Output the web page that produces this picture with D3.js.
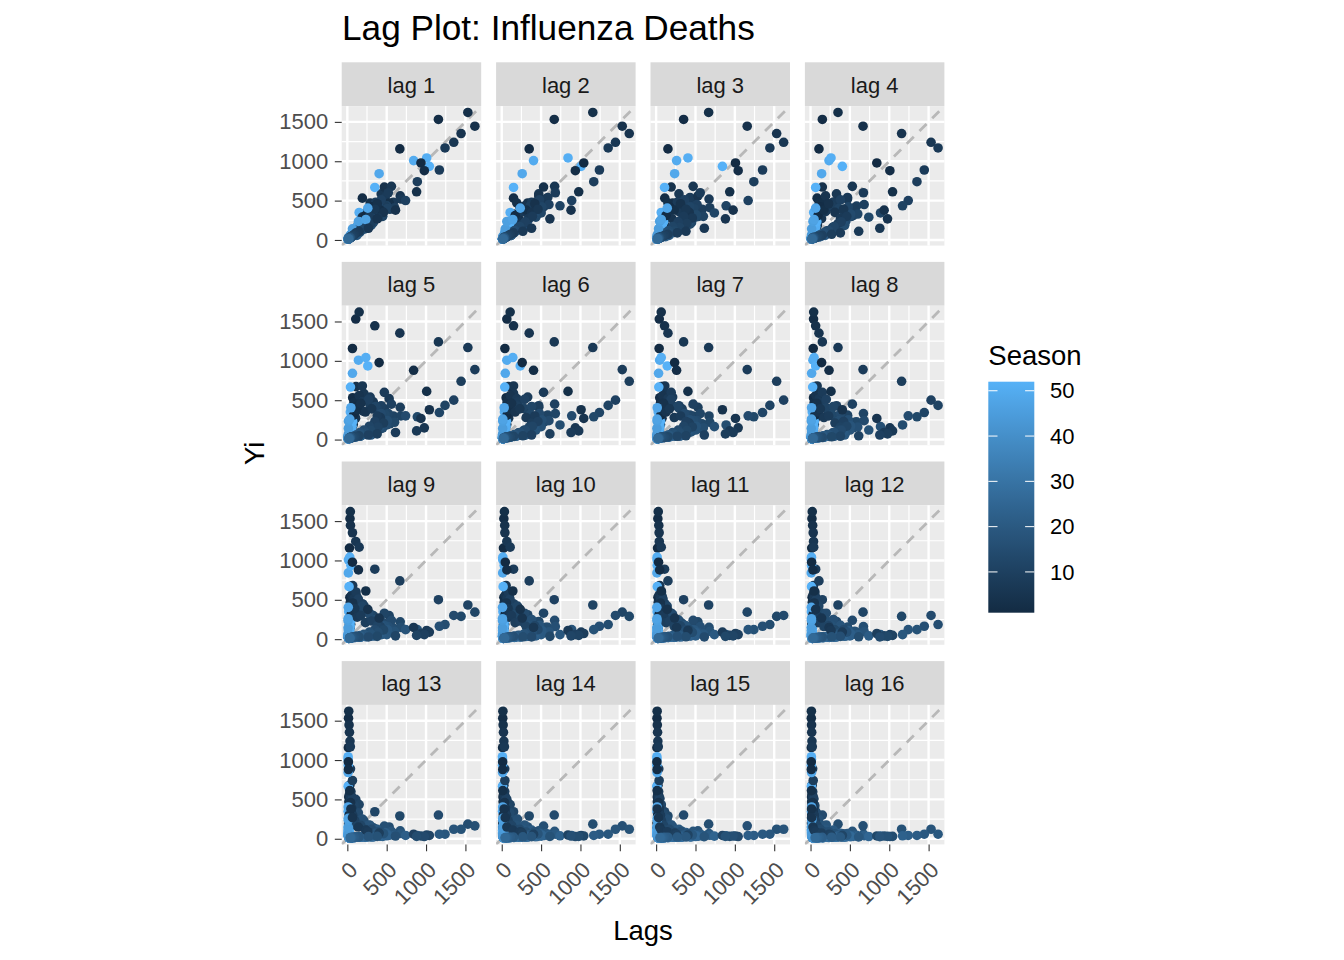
<!DOCTYPE html>
<html>
<head>
<meta charset="utf-8">
<script src="https://cdn.jsdelivr.net/npm/d3@7"></script>
<style>
  body { margin: 0; background: #fff; }
  text { font-family: "Liberation Sans", Arial, Helvetica, sans-serif; }
</style>
</head>
<body>
<div id="vis"></div>
<script>
// week of the year for each row of a season (a season runs wk27 -> wk26)
var weekOrder = [27,28,29,30,31,32,33,34,35,36,37,38,39,40,41,42,43,44,45,46,47,48,49,50,51,52,
                 1,2,3,4,5,6,7,8,9,10,11,12,13,14,15,16,17,18,19,20,21,22,23,24,25,26];

// weekly influenza deaths, one array per season
var season1 = [24,22,20,19,18,17,16,15,14,14,15,16,17,19,21,24,27,31,36,43,52,63,78,96,120,150,
               210,330,290,470,430,585,480,540,390,430,300,310,200,225,140,150,95,92,66,60,45,43,33,31,26,24];
var season2 = [23,21,19,18,16,15,14,13,12,12,13,14,15,16,18,20,23,27,32,38,46,56,68,84,110,150,
               191,531,470,672,560,681,520,600,410,450,300,330,220,240,150,160,100,95,66,58,44,40,31,28,24,22];
var season3 = [22,20,19,17,16,15,14,13,12,11,10,10,11,13,15,18,22,27,34,38,40,65,107,150,349,667,
               1157,1531,1620,1445,1352,1241,1169,889,740,501,434,343,289,301,186,164,121,121,58,58,42,42,38,33,29,26];
var season4 = [25,23,21,20,19,18,17,16,15,15,16,17,18,20,22,25,28,32,37,42,48,55,64,75,88,105,
               140,200,190,290,270,380,360,480,430,510,400,420,320,330,240,250,170,175,120,110,80,70,50,45,36,30];
var season5 = [28,26,24,22,21,20,19,18,18,19,20,22,25,28,32,37,42,48,55,60,68,80,95,125,170,230,
               310,420,380,460,350,390,280,300,210,230,160,170,118,120,86,90,64,62,48,46,37,35,30,28,25,23];
var season6 = [20,18,17,16,15,14,13,12,11,10,9,10,12,13,14,31,45,65,141,235,260,404,842,1008,1042,935,
               978,880,612,379,268,149,110,90,72,58,48,42,36,28,30,35,30,27,24,22,20,18,16,15,14,13];

var lags = [1,2,3,4,5,6,7,8,9,10,11,12,13,14,15,16];
var axisTicks = [0,500,1000,1500];
var minorTicks = [250,750,1250];
var legendTicks = [10,20,30,40,50];
var seasonRange = [1,52];

(function(){
  var seasons = [season1, season2, season3, season4, season5, season6];
  var deaths = [], weeks = [];
  seasons.forEach(function(s){
    s.forEach(function(v, i){
      deaths.push(v);
      weeks.push(weekOrder[i]);
    });
  });

  function lagPairs(k) {
    var out = [];
    for (var t = k; t < deaths.length; t++) {
      out.push({lag: deaths[t-k], yi: deaths[t], season: weeks[t]});
    }
    return out;
  }

  var width = 1344, height = 960;
  var svg = d3.select('#vis').append('svg')
    .attr('width', width)
    .attr('height', height);
  svg.append('rect').attr('width', width).attr('height', height).attr('fill', '#fff');

  // ggplot-ish layout
  var panelSize = 139.5;
  var left0 = 341.7, colStep = 154.4;
  var top0 = 62.3, stripH = 43.8, rowStep = 199.6;

  var ext = d3.extent(deaths);
  var pad = (ext[1] - ext[0]) * 0.05;
  var dom = [ext[0] - pad, ext[1] + pad];

  var x_scale = d3.scaleLinear().domain(dom).range([0, panelSize]);
  var y_scale = d3.scaleLinear().domain(dom).range([panelSize, 0]);

  var colour = d3.scaleLinear()
    .domain(seasonRange)
    .range(['#132B43', '#56B1F7'])
    .interpolate(d3.interpolateLab);

  var clip = svg.append('defs').append('clipPath').attr('id', 'panelclip');
  clip.append('rect').attr('width', panelSize).attr('height', panelSize);

  lags.forEach(function(k, i){
    var col = i % 4, row = Math.floor(i / 4);
    var g = svg.append('g')
      .attr('transform', 'translate(' + (left0 + col * colStep) + ',' + (top0 + row * rowStep) + ')');

    // strip
    g.append('rect').attr('width', panelSize).attr('height', stripH).attr('fill', '#D9D9D9');
    g.append('text')
      .attr('x', panelSize / 2)
      .attr('y', stripH / 2 + 8.5)
      .attr('text-anchor', 'middle')
      .attr('font-size', '22px')
      .attr('fill', '#1A1A1A')
      .text('lag ' + k);

    var p = g.append('g').attr('transform', 'translate(0,' + stripH + ')');
    p.append('rect').attr('width', panelSize).attr('height', panelSize).attr('fill', '#EBEBEB');

    // grid
    minorTicks.forEach(function(v){
      p.append('line').attr('x1', x_scale(v)).attr('x2', x_scale(v)).attr('y1', 0).attr('y2', panelSize)
        .attr('stroke', '#fff').attr('stroke-width', 1.2);
      p.append('line').attr('y1', y_scale(v)).attr('y2', y_scale(v)).attr('x1', 0).attr('x2', panelSize)
        .attr('stroke', '#fff').attr('stroke-width', 1.2);
    });
    axisTicks.forEach(function(v){
      p.append('line').attr('x1', x_scale(v)).attr('x2', x_scale(v)).attr('y1', 0).attr('y2', panelSize)
        .attr('stroke', '#fff').attr('stroke-width', 2.4);
      p.append('line').attr('y1', y_scale(v)).attr('y2', y_scale(v)).attr('x1', 0).attr('x2', panelSize)
        .attr('stroke', '#fff').attr('stroke-width', 2.4);
    });

    var inner = p.append('g').attr('clip-path', 'url(#panelclip)');
    // y = x reference line
    inner.append('line')
      .attr('x1', x_scale(dom[0])).attr('y1', y_scale(dom[0]))
      .attr('x2', x_scale(dom[1])).attr('y2', y_scale(dom[1]))
      .attr('stroke', '#B8B8B8')
      .attr('stroke-width', 2.8)
      .attr('stroke-dasharray', '10,8');

    inner.selectAll('.pt')
      .data(lagPairs(k))
      .enter()
      .append('circle')
      .attr('class', 'pt')
      .attr('cx', function(d){ return x_scale(d.lag); })
      .attr('cy', function(d){ return y_scale(d.yi); })
      .attr('r', 4.8)
      .attr('fill', function(d){ return colour(d.season); });

    if (col == 0) {
      var ya = p.append('g').call(d3.axisLeft(y_scale).tickValues(axisTicks)
        .tickFormat(d3.format('d')).tickSize(6.9).tickPadding(6.5));
      ya.select('.domain').remove();
      ya.selectAll('line').attr('stroke', '#333').attr('stroke-width', 1.1);
      ya.selectAll('text').attr('font-size', '22px').attr('fill', '#4D4D4D')
        .attr('font-family', '"Liberation Sans", Arial, sans-serif');
    }
    if (row == 3) {
      var xa = p.append('g').attr('transform', 'translate(0,' + panelSize + ')')
        .call(d3.axisBottom(x_scale).tickValues(axisTicks).tickFormat(d3.format('d')).tickSize(6.9));
      xa.select('.domain').remove();
      xa.selectAll('line').attr('stroke', '#333').attr('stroke-width', 1.1);
      xa.selectAll('text')
        .attr('y', null).attr('dy', null)
        .attr('text-anchor', 'end')
        .attr('transform', 'translate(11,27) rotate(-45)')
        .attr('font-size', '22px').attr('fill', '#4D4D4D')
        .attr('font-family', '"Liberation Sans", Arial, sans-serif');
    }
  });

  // titles
  svg.append('text')
    .attr('x', 342).attr('y', 40)
    .attr('font-size', '35.2px')
    .text('Lag Plot: Influenza Deaths');

  svg.append('text')
    .attr('x', left0 + (3 * colStep + panelSize) / 2).attr('y', 940)
    .attr('text-anchor', 'middle')
    .attr('font-size', '27.5px')
    .text('Lags');

  svg.append('text')
    .attr('transform', 'translate(264,' + (top0 + stripH / 2 + (3 * rowStep + panelSize) / 2) + ') rotate(-90)')
    .attr('text-anchor', 'middle')
    .attr('font-size', '27.5px')
    .text('Yi');

  // colour bar legend
  var barX = 988.3, barW = 46, barTop = 381.7, barBot = 612.7;
  var leg_scale = d3.scaleLinear().domain(seasonRange).range([barBot, barTop]);
  var grad = svg.select('defs').append('linearGradient')
    .attr('id', 'seasongrad')
    .attr('x1', 0).attr('y1', 1).attr('x2', 0).attr('y2', 0);
  d3.range(0, 21).forEach(function(j){
    var v = seasonRange[0] + (seasonRange[1] - seasonRange[0]) * j / 20;
    grad.append('stop').attr('offset', (j * 5) + '%').attr('stop-color', colour(v));
  });

  svg.append('text')
    .attr('x', barX).attr('y', 365)
    .attr('font-size', '27.5px')
    .text('Season');

  svg.append('rect')
    .attr('x', barX).attr('y', barTop)
    .attr('width', barW).attr('height', barBot - barTop)
    .attr('fill', 'url(#seasongrad)');

  legendTicks.forEach(function(v){
    var ty = leg_scale(v);
    svg.append('line').attr('x1', barX).attr('x2', barX + barW / 5).attr('y1', ty).attr('y2', ty)
      .attr('stroke', '#fff').attr('stroke-width', 1);
    svg.append('line').attr('x1', barX + barW - barW / 5).attr('x2', barX + barW).attr('y1', ty).attr('y2', ty)
      .attr('stroke', '#fff').attr('stroke-width', 1);
    svg.append('text')
      .attr('x', 1050).attr('y', ty)
      .attr('dy', '0.35em')
      .attr('font-size', '22px')
      .text(v);
  });
})();
</script>
</body>
</html>
